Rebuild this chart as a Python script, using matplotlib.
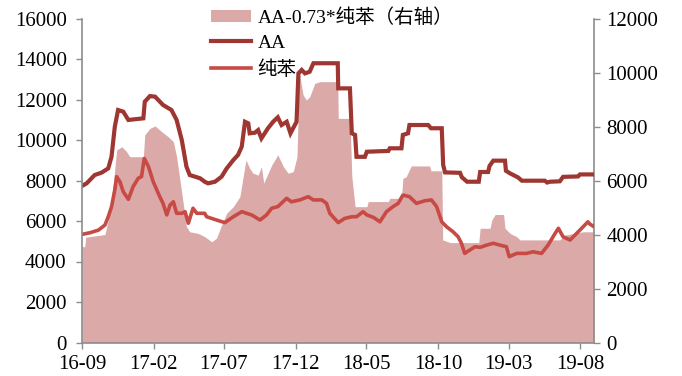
import matplotlib
matplotlib.use('Agg')
import matplotlib.pyplot as plt
import matplotlib.dates as mdates
from matplotlib.patches import Patch
from matplotlib.lines import Line2D
import pandas as pd

# ---- data ----
aa_dates = ['2016-09-01', '2016-09-11', '2016-09-28', '2016-10-13', '2016-10-27', '2016-11-03',
            '2016-11-10', '2016-11-17', '2016-11-28', '2016-12-09', '2017-01-10', '2017-01-13',
            '2017-01-24', '2017-02-04', '2017-02-21', '2017-03-11', '2017-03-22', '2017-04-02',
            '2017-04-12', '2017-04-19', '2017-05-11', '2017-05-21', '2017-05-28', '2017-06-12',
            '2017-06-26', '2017-07-07', '2017-07-21', '2017-07-31', '2017-08-08', '2017-08-15',
            '2017-08-22', '2017-08-25', '2017-09-05', '2017-09-12', '2017-09-19', '2017-10-03',
            '2017-10-14', '2017-10-24', '2017-11-01', '2017-11-12', '2017-11-20', '2017-12-03',
            '2017-12-07', '2017-12-14', '2017-12-21', '2017-12-31', '2018-01-08', '2018-03-01',
            '2018-03-02', '2018-03-27', '2018-03-31', '2018-04-07', '2018-04-10', '2018-04-28',
            '2018-05-02', '2018-06-17', '2018-06-20', '2018-07-15', '2018-07-18', '2018-07-29',
            '2018-08-01', '2018-09-10', '2018-09-16', '2018-10-09', '2018-10-12', '2018-10-16',
            '2018-11-17', '2018-11-21', '2018-12-02', '2018-12-27', '2018-12-30', '2019-01-16',
            '2019-01-19', '2019-01-27', '2019-02-21', '2019-02-23', '2019-03-04', '2019-03-21',
            '2019-03-29', '2019-05-17', '2019-05-22', '2019-05-28', '2019-06-18', '2019-06-25',
            '2019-07-27', '2019-07-31', '2019-08-30']
aa_values = [7730, 7860, 8270, 8390, 8600, 9170,
             10650, 11480, 11400, 10990, 11070, 11890,
             12170, 12140, 11730, 11480, 10990, 10000,
             8680, 8270, 8110, 7940, 7860, 7940,
             8190, 8600, 9010, 9260, 9670, 10900,
             10820, 10330, 10360, 10490, 10080, 10580,
             10900, 11120, 10740, 10900, 10330, 10900,
             13290, 13460, 13290, 13370, 13790, 13790,
             12550, 12550, 10330, 10250, 9170, 9170,
             9420, 9460, 9590, 9590, 10250, 10330,
             10740, 10740, 10580, 10580, 8770, 8400,
             8380, 8160, 7940, 7940, 8420, 8420,
             8720, 8980, 8980, 8480, 8350, 8150,
             7990, 7990, 7900, 7940, 7960, 8180,
             8200, 8300, 8300]

bz_dates = ['2016-09-01', '2016-09-18', '2016-10-06', '2016-10-20', '2016-10-27', '2016-11-03',
            '2016-11-10', '2016-11-14', '2016-11-21', '2016-11-28', '2016-12-09', '2016-12-19',
            '2016-12-30', '2017-01-06', '2017-01-12', '2017-01-21', '2017-01-31', '2017-02-14',
            '2017-02-21', '2017-03-01', '2017-03-08', '2017-03-15', '2017-03-22', '2017-04-02',
            '2017-04-09', '2017-04-16', '2017-04-26', '2017-05-04', '2017-05-21', '2017-05-25',
            '2017-06-15', '2017-07-03', '2017-07-21', '2017-08-08', '2017-08-29', '2017-09-16',
            '2017-09-30', '2017-10-11', '2017-10-24', '2017-11-12', '2017-11-22', '2017-12-10',
            '2017-12-28', '2018-01-08', '2018-01-26', '2018-02-05', '2018-02-12', '2018-03-02',
            '2018-03-16', '2018-03-31', '2018-04-10', '2018-04-24', '2018-05-02', '2018-05-16',
            '2018-05-30', '2018-06-13', '2018-06-27', '2018-07-08', '2018-07-18', '2018-08-01',
            '2018-08-16', '2018-09-03', '2018-09-17', '2018-09-28', '2018-10-09', '2018-10-19',
            '2018-11-02', '2018-11-13', '2018-11-20', '2018-11-27', '2018-12-08', '2018-12-19',
            '2018-12-30', '2019-01-13', '2019-01-27', '2019-02-10', '2019-02-24', '2019-03-02',
            '2019-03-18', '2019-04-08', '2019-04-22', '2019-05-10', '2019-05-24', '2019-06-08',
            '2019-06-15', '2019-06-25', '2019-07-10', '2019-07-24', '2019-08-07', '2019-08-17',
            '2019-08-21', '2019-08-28']
bz_values = [5340, 5420, 5550, 5800, 6210, 6700,
             7530, 8190, 7940, 7450, 7070, 7690,
             8110, 8190, 9090, 8680, 7940, 7200,
             6870, 6300, 6790, 6950, 6380, 6380,
             6460, 5890, 6630, 6380, 6380, 6210,
             6050, 5920, 6210, 6460, 6300, 6050,
             6300, 6630, 6710, 7120, 6950, 7040,
             7200, 7040, 7040, 6870, 6380, 5920,
             6130, 6210, 6210, 6460, 6300, 6180,
             5960, 6460, 6710, 6870, 7280, 7200,
             6870, 7000, 7040, 6710, 5960, 5720,
             5470, 5220, 4900, 4400, 4570, 4730,
             4700, 4810, 4900, 4810, 4730, 4240,
             4400, 4400, 4480, 4400, 4810, 5390,
             5640, 5220, 5060, 5390, 5720, 5960,
             5850, 5750]

spread_dates = ['2016-09-01', '2016-09-07', '2016-09-09', '2016-10-20', '2016-10-27', '2016-11-07',
                '2016-11-14', '2016-11-25', '2016-12-05', '2016-12-12', '2017-01-10', '2017-01-13',
                '2017-01-24', '2017-02-04', '2017-02-18', '2017-03-04', '2017-03-15', '2017-03-22',
                '2017-03-29', '2017-04-05', '2017-04-12', '2017-04-19', '2017-05-07', '2017-05-21',
                '2017-06-05', '2017-06-15', '2017-06-26', '2017-07-07', '2017-07-21', '2017-08-04',
                '2017-08-11', '2017-08-17', '2017-08-25', '2017-09-01', '2017-09-12', '2017-09-19',
                '2017-09-24', '2017-09-30', '2017-10-11', '2017-10-24', '2017-11-05', '2017-11-15',
                '2017-11-26', '2017-12-04', '2017-12-09', '2017-12-17', '2017-12-24', '2017-12-31',
                '2018-01-11', '2018-01-22', '2018-03-01', '2018-03-02', '2018-03-27', '2018-03-31',
                '2018-04-07', '2018-05-02', '2018-05-05', '2018-06-17', '2018-06-20', '2018-07-15',
                '2018-07-18', '2018-07-25', '2018-08-05', '2018-09-13', '2018-09-16', '2018-10-09',
                '2018-10-11', '2018-10-27', '2018-12-27', '2018-12-30', '2019-01-20', '2019-01-24',
                '2019-01-31', '2019-02-18', '2019-02-21', '2019-03-04', '2019-03-18', '2019-03-25',
                '2019-06-18', '2019-06-29', '2019-08-07', '2019-08-30']
spread_values = [3550, 3550, 3900, 4000, 4540, 5900,
                 7130, 7250, 7070, 6880, 6880, 7690,
                 7930, 8020, 7810, 7620, 7440, 6880,
                 6020, 5160, 4290, 4100, 4040, 3920,
                 3730, 3860, 4350, 4790, 5030, 5400,
                 6140, 6760, 6450, 6270, 6200, 6510,
                 5900, 6140, 6570, 6950, 6510, 6270,
                 6330, 6880, 9970, 9170, 8980, 9100,
                 9600, 9660, 9660, 8300, 8300, 6140,
                 5030, 5030, 5220, 5220, 5340, 5340,
                 6080, 6140, 6540, 6540, 6360, 6360,
                 3800, 3700, 3700, 4230, 4230, 4540,
                 4740, 4740, 4230, 4040, 3920, 3800,
                 3800, 3980, 4100, 4100]

tick_dates = ['2016-09-01', '2017-02-01', '2017-07-01', '2017-12-01',
              '2018-05-01', '2018-10-01', '2019-03-01', '2019-08-01']
tick_labels = ['16-09', '17-02', '17-07', '17-12', '18-05', '18-10', '19-03', '19-08']

left_ticks = [0, 2000, 4000, 6000, 8000, 10000, 12000, 14000, 16000]
right_ticks = [0, 2000, 4000, 6000, 8000, 10000, 12000]

label_spread = 'AA-0.73*纯苯（右轴）'
label_aa = 'AA'
label_bz = '纯苯'

# ---- style ----
plt.rcParams['font.family'] = ['Liberation Serif', 'Noto Sans CJK SC']
c_aa = '#9E3632'
c_bz = '#C84A45'
c_area = '#DBA9A8'
c_spine = '#8C8C8C'

fig = plt.figure(figsize=(6.82, 3.76), dpi=100)
ax = fig.add_axes([82 / 682, 1 - 342.5 / 376, (594 - 82) / 682, 324 / 376])
ax2 = ax.twinx()

sd = pd.to_datetime(spread_dates)
ax2.fill_between(sd, spread_values, 0, color=c_area, linewidth=0)
ax.plot(pd.to_datetime(aa_dates), aa_values, color=c_aa, lw=3.0, solid_joinstyle='miter')
ax.plot(pd.to_datetime(bz_dates), bz_values, color=c_bz, lw=2.6)

ax.set_zorder(ax2.get_zorder() + 1)
ax.patch.set_visible(False)

x0 = pd.Timestamp('2016-09-01')
x1 = pd.Timestamp('2019-08-30')
ax.set_xlim(x0, x1)
ax.set_ylim(0, 16000)
ax2.set_ylim(0, 12000)
ax.set_yticks(left_ticks)
ax2.set_yticks(right_ticks)
ax.set_xticks(pd.to_datetime(tick_dates))
ax.set_xticklabels(tick_labels)

for a in (ax, ax2):
    for s in a.spines.values():
        s.set_color(c_spine)
        s.set_linewidth(1.2)
    a.spines['top'].set_visible(False)
ax.spines['right'].set_visible(False)
ax2.spines['left'].set_visible(False)
ax2.spines['bottom'].set_visible(False)

ax.tick_params(axis='y', direction='out', length=4, width=1, color=c_spine, labelsize=15, pad=7)
ax.tick_params(axis='x', direction='out', length=4, width=1, color=c_spine, labelsize=15, pad=5)
ax2.tick_params(axis='y', direction='out', length=4, width=1, color=c_spine, labelsize=15, pad=5)

handles = [Patch(facecolor=c_area, edgecolor='none'),
           Line2D([], [], color=c_aa, lw=3.0),
           Line2D([], [], color=c_bz, lw=2.6)]
fig.legend(handles, [label_spread, label_aa, label_bz], loc='upper left',
           bbox_to_anchor=(211 / 682, 1 - 8 / 376), frameon=False, fontsize=14,
           handlelength=2.05, handleheight=0.55, handletextpad=0.35, labelspacing=0.42,
           borderpad=0, borderaxespad=0)

fig.savefig('out.png', dpi=100)
